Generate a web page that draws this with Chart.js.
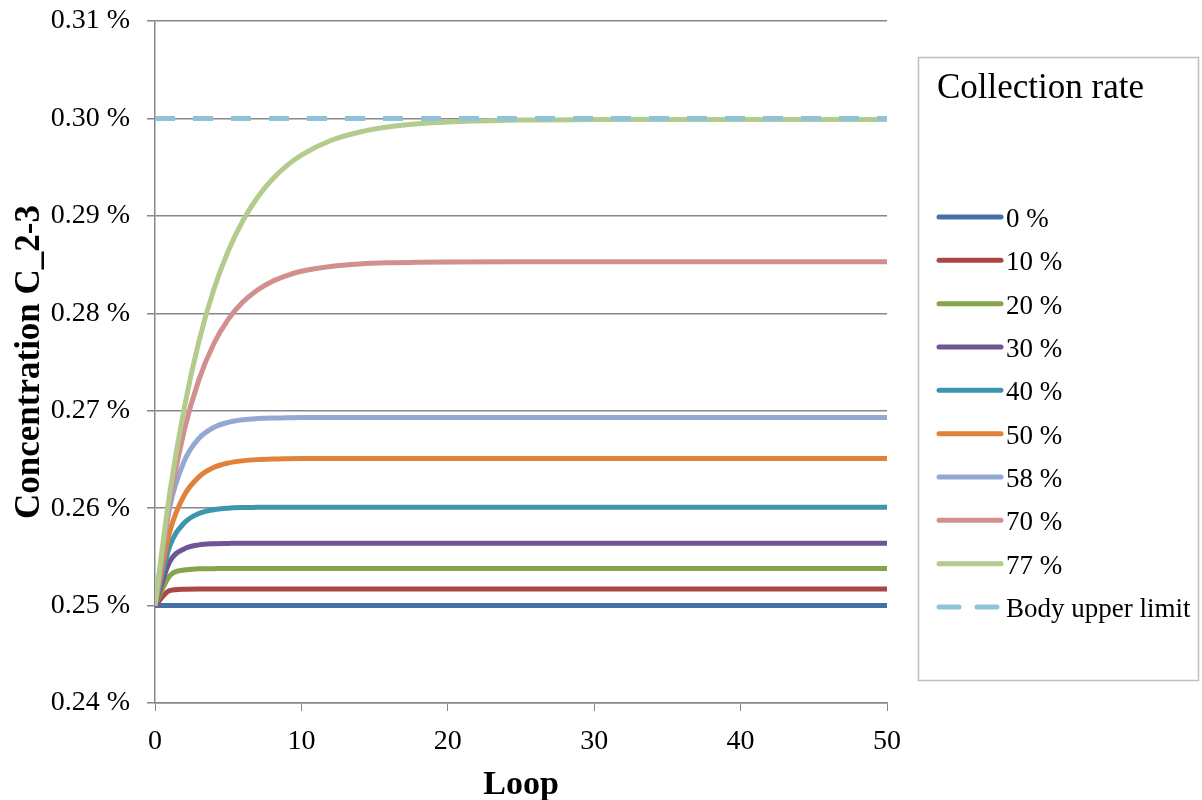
<!DOCTYPE html>
<html>
<head>
<meta charset="utf-8">
<script src="https://cdn.jsdelivr.net/npm/chart.js@4/dist/chart.umd.min.js"></script>
<style>
  body { margin: 0; background: #fff; }
</style>
</head>
<body>
<canvas id="myChart" width="1202" height="800"></canvas>
<script>
// loop numbers where values were read
const loops = [0, 1, 2, 3, 4, 5, 6, 7, 8, 9, 10, 12, 14, 16, 18, 20, 25, 30, 40, 50];

// concentration (%) for each collection rate
const rate0  = [0.25, 0.25, 0.25, 0.25, 0.25, 0.25, 0.25, 0.25, 0.25, 0.25, 0.25, 0.25, 0.25, 0.25, 0.25, 0.25, 0.25, 0.25, 0.25, 0.25];
const rate10 = [0.25, 0.25153, 0.25168, 0.2517, 0.2517, 0.2517, 0.2517, 0.2517, 0.2517, 0.2517, 0.2517, 0.2517, 0.2517, 0.2517, 0.2517, 0.2517, 0.2517, 0.2517, 0.2517, 0.2517];
const rate20 = [0.25, 0.25304, 0.25365, 0.25377, 0.25379, 0.2538, 0.2538, 0.2538, 0.2538, 0.2538, 0.2538, 0.2538, 0.2538, 0.2538, 0.2538, 0.2538, 0.2538, 0.2538, 0.2538, 0.2538];
const rate30 = [0.25, 0.25448, 0.25582, 0.25623, 0.25635, 0.25638, 0.2564, 0.2564, 0.2564, 0.2564, 0.2564, 0.2564, 0.2564, 0.2564, 0.2564, 0.2564, 0.2564, 0.2564, 0.2564, 0.2564];
const rate40 = [0.25, 0.25606, 0.25848, 0.25945, 0.25984, 0.26, 0.26006, 0.26008, 0.2601, 0.2601, 0.2601, 0.2601, 0.2601, 0.2601, 0.2601, 0.2601, 0.2601, 0.2601, 0.2601, 0.2601];
const rate50 = [0.25, 0.25755, 0.26133, 0.26321, 0.26416, 0.26463, 0.26486, 0.26498, 0.26504, 0.26507, 0.26509, 0.2651, 0.2651, 0.2651, 0.2651, 0.2651, 0.2651, 0.2651, 0.2651, 0.2651];
const rate58 = [0.25, 0.26004, 0.26485, 0.26717, 0.26828, 0.26881, 0.26907, 0.26919, 0.26925, 0.26927, 0.2693, 0.2693, 0.2693, 0.2693, 0.2693, 0.2693, 0.2693, 0.2693, 0.2693, 0.2693];
const rate70 = [0.25, 0.26059, 0.268, 0.27319, 0.27682, 0.27937, 0.28115, 0.28239, 0.28327, 0.28387, 0.28431, 0.28481, 0.28506, 0.28518, 0.28524, 0.28527, 0.2853, 0.2853, 0.2853, 0.2853];
const rate77 = [0.25, 0.26148, 0.27031, 0.27712, 0.28236, 0.28639, 0.2895, 0.29189, 0.29373, 0.29515, 0.29624, 0.29773, 0.29861, 0.29914, 0.29945, 0.29963, 0.29983, 0.29988, 0.2999, 0.2999];

// body upper limit
const limitLoops = [0, 50];
const limitValues = [0.30, 0.30];

const seriesLabels = ['0 %', '10 %', '20 %', '30 %', '40 %', '50 %', '58 %', '70 %', '77 %'];
const seriesValues = [rate0, rate10, rate20, rate30, rate40, rate50, rate58, rate70, rate77];
const seriesColors = ['#4470aa', '#aa4643', '#86a44a', '#6f5593', '#3c96af', '#e0823a', '#93a9d1', '#d18f8e', '#b4cb8e'];

const serif = "'Liberation Serif', 'Times New Roman', serif";
const gridColor = '#878787';

const datasets = seriesValues.map((vals, i) => ({
    label: seriesLabels[i],
    data: loops.map((x, j) => ({ x: x, y: vals[j] })),
    borderColor: seriesColors[i],
    borderWidth: 5,
    pointRadius: 0,
    cubicInterpolationMode: 'monotone',
    order: 20 - i
}));

datasets.push({
    label: 'Body upper limit',
    data: limitLoops.map((x, j) => ({ x: x, y: limitValues[j] })),
    borderColor: '#8fc3d9',
    borderWidth: 5,
    borderDash: [20, 18],
    pointRadius: 0,
    order: 1
});

// legend drawn at the right, like the original
const legendBox = {
    id: 'legendBox',
    afterDraw(chart) {
        const c = chart.ctx;
        c.save();
        c.strokeStyle = '#c0c0c0';
        c.lineWidth = 1.5;
        c.strokeRect(918.5, 57.5, 280, 623);
        c.fillStyle = '#000';
        c.textBaseline = 'alphabetic';
        c.font = '35px ' + serif;
        c.fillText('Collection rate', 937, 98);
        c.font = '27px ' + serif;
        chart.data.datasets.forEach((ds, i) => {
            const y = 217 + i * 43.33;
            c.strokeStyle = ds.borderColor;
            c.lineWidth = 5;
            c.lineCap = 'round';
            c.setLineDash(ds.borderDash || []);
            c.beginPath();
            c.moveTo(939, y);
            c.lineTo(1001, y);
            c.stroke();
            c.setLineDash([]);
            c.fillText(ds.label, 1006, y + 10);
        });
        c.restore();
    }
};

new Chart(document.getElementById('myChart'), {
    type: 'line',
    data: { datasets },
    options: {
        responsive: false,
        animation: false,
        layout: { padding: { top: 21, right: 315, left: 0, bottom: 0 } },
        plugins: {
            legend: { display: false },
            tooltip: { enabled: false }
        },
        scales: {
            x: {
                type: 'linear',
                min: 0,
                max: 50,
                ticks: {
                    stepSize: 10,
                    color: '#000',
                    padding: 14,
                    font: { family: serif, size: 28 }
                },
                grid: { drawOnChartArea: false, drawTicks: true, tickLength: 8, color: gridColor },
                border: { display: true, color: gridColor, width: 1.5 },
                title: {
                    display: true,
                    text: 'Loop',
                    color: '#000',
                    font: { family: serif, size: 34, weight: 'bold' },
                    padding: { top: 0, bottom: -6 }
                },
                afterFit: s => { s.height = 97; s.paddingLeft = 0; s.paddingRight = 0; }
            },
            y: {
                min: 0.24,
                max: 0.31,
                ticks: {
                    stepSize: 0.01,
                    color: '#000',
                    padding: 17,
                    font: { family: serif, size: 28 },
                    callback: v => v.toFixed(2) + ' %'
                },
                grid: { drawTicks: true, tickLength: 8, color: gridColor, lineWidth: 1.5 },
                border: { display: true, color: gridColor, width: 1.5 },
                title: {
                    display: true,
                    text: 'Concentration C_2-3',
                    color: '#000',
                    font: { family: serif, size: 35, weight: 'bold' },
                    padding: { top: 9, bottom: 0 }
                },
                afterFit: s => { s.width = 155; s.paddingTop = 0; s.paddingBottom = 0; }
            }
        }
    },
    plugins: [legendBox]
});
</script>
</body>
</html>
